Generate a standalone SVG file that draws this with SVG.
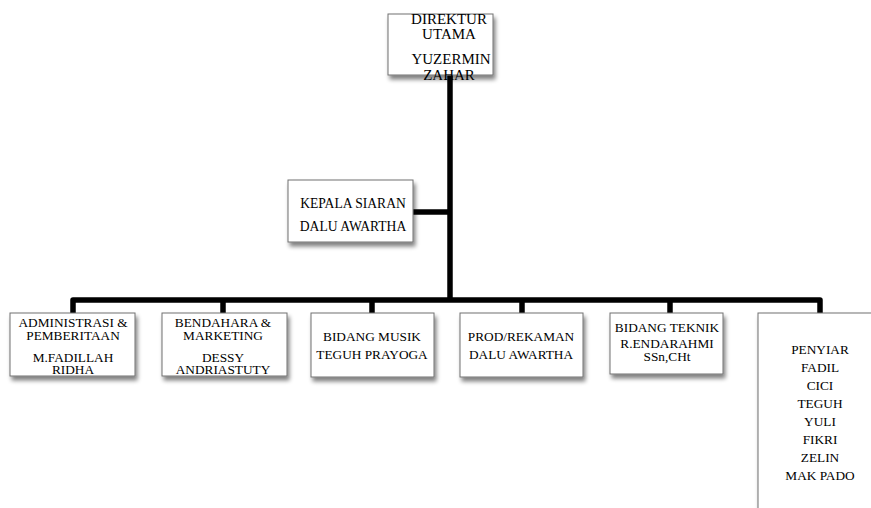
<svg xmlns="http://www.w3.org/2000/svg" width="871" height="508" viewBox="0 0 871 508">
<defs>
<filter id="sh" x="-10%" y="-10%" width="130%" height="140%">
<feGaussianBlur in="SourceAlpha" stdDeviation="2"/>
<feOffset dx="2" dy="4" result="b"/>
<feComponentTransfer><feFuncA type="linear" slope="0.5"/></feComponentTransfer>
<feMerge><feMergeNode/><feMergeNode in="SourceGraphic"/></feMerge>
</filter>
<style>
.box{fill:#fff;stroke:#707070;stroke-width:1;filter:url(#sh)}
.t{font-family:"Liberation Serif","Times New Roman",serif;font-size:13.3px;fill:#000;text-anchor:middle}
.big{font-size:15px}
.c{fill:none;stroke:#000;stroke-width:5.5;stroke-linejoin:round;stroke-linecap:butt}
</style>
</defs>
<rect width="871" height="508" fill="#fff"/>
<g id="connectors">
<path class="c" d="M450 74 V300"/>
<path class="c" d="M413 212 H450"/>
<path class="c" d="M73 314 V300 H820 V314"/>
<path class="c" d="M223 300 V314"/>
<path class="c" d="M372 300 V314"/>
<path class="c" d="M522 300 V314"/>
<path class="c" d="M670 300 V314"/>
</g>
<g id="direktur">
<rect class="box" x="388" y="14" width="105" height="61"/>
<text class="t big" x="449" y="24">DIREKTUR</text>
<text class="t big" x="449" y="39">UTAMA</text>
<text class="t big" x="451" y="64">YUZERMIN</text>
<text class="t big" x="449" y="80">ZAHAR</text>
</g>
<g id="kepala">
<rect class="box" x="288" y="180" width="125" height="62"/>
<text class="t" x="353" y="207.5" style="font-size:13.6px">KEPALA SIARAN</text>
<text class="t" x="353" y="230.5" style="font-size:13.6px">DALU AWARTHA</text>
</g>
<g id="admin">
<rect class="box" x="10" y="313" width="125" height="63"/>
<text class="t" x="73" y="327">ADMINISTRASI &amp;</text>
<text class="t" x="73" y="339.5">PEMBERITAAN</text>
<text class="t" x="73" y="361.5">M.FADILLAH</text>
<text class="t" x="73" y="374">RIDHA</text>
</g>
<g id="bendahara">
<rect class="box" x="162" y="313" width="125" height="63"/>
<text class="t" x="223" y="327">BENDAHARA &amp;</text>
<text class="t" x="223" y="339.5">MARKETING</text>
<text class="t" x="223" y="361.5">DESSY</text>
<text class="t" x="223" y="374">ANDRIASTUTY</text>
</g>
<g id="musik">
<rect class="box" x="311" y="313" width="123" height="64"/>
<text class="t" x="372" y="340.5">BIDANG MUSIK</text>
<text class="t" x="372" y="358.5">TEGUH PRAYOGA</text>
</g>
<g id="prod">
<rect class="box" x="460" y="313" width="123" height="64"/>
<text class="t" x="521" y="340.5">PROD/REKAMAN</text>
<text class="t" x="521" y="358.5">DALU AWARTHA</text>
</g>
<g id="teknik">
<rect class="box" x="610" y="313" width="113" height="61"/>
<text class="t" x="667" y="332">BIDANG TEKNIK</text>
<text class="t" x="667" y="348">R.ENDARAHMI</text>
<text class="t" x="667" y="360.5">SSn,CHt</text>
</g>
<g id="penyiar">
<rect class="box" x="758" y="313" width="124" height="210"/>
<text class="t" x="820" y="354">PENYIAR</text>
<text class="t" x="820" y="372">FADIL</text>
<text class="t" x="820" y="390">CICI</text>
<text class="t" x="820" y="408">TEGUH</text>
<text class="t" x="820" y="426">YULI</text>
<text class="t" x="820" y="444">FIKRI</text>
<text class="t" x="820" y="462">ZELIN</text>
<text class="t" x="820" y="480">MAK PADO</text>
</g>
</svg>
